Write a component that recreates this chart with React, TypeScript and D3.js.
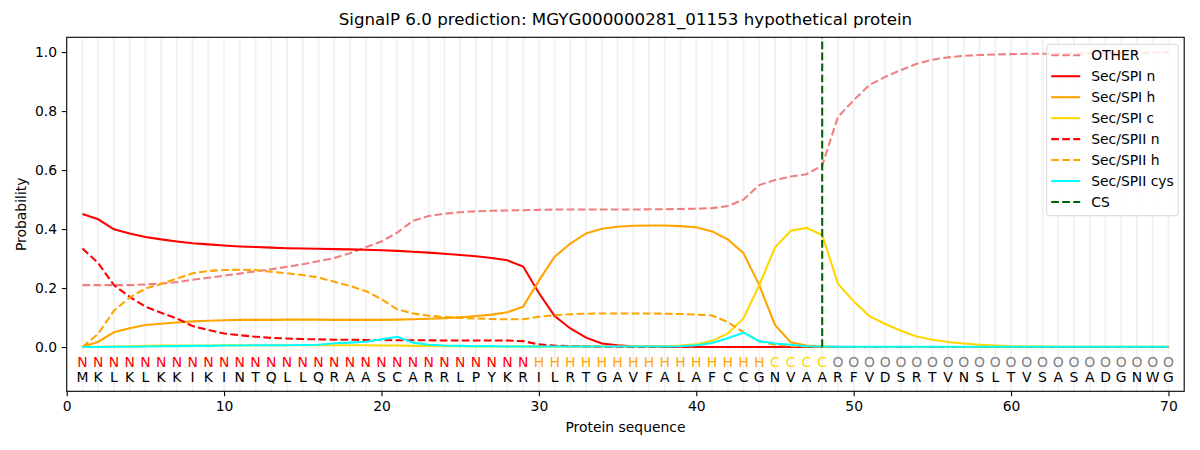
import React, { useEffect, useRef } from 'react'
import * as d3 from 'd3'

// residue sequence and SignalP region labels
const sequence = "MKLKLKKIKINTQLLQRAASCARRLPYKRILRTGAVFALAFCCGNVAARFVDSRTVNSLTVSASADGNWG".split("")
const regionLabels = [
    ...Array(29).fill("N"),
    ...Array(15).fill("H"),
    ...Array(4).fill("C"),
    ...Array(22).fill("O"),
]
const regionColors: Record<string, string> = { N: "red", H: "orange", C: "gold", O: "grey" }

const xTicks = [0, 10, 20, 30, 40, 50, 60, 70]
const yTicks = [0, 0.2, 0.4, 0.6, 0.8, 1.0]
const cleavageSite = 48

const other = [
    0.21, 0.21, 0.21, 0.21, 0.212, 0.215, 0.22, 0.228, 0.235, 0.242,
    0.249, 0.257, 0.264, 0.272, 0.281, 0.291, 0.302, 0.318, 0.338, 0.358,
    0.388, 0.428, 0.444, 0.452, 0.457, 0.46, 0.462, 0.463, 0.464, 0.465,
    0.466, 0.466, 0.466, 0.466, 0.466, 0.466, 0.467, 0.467, 0.468, 0.469,
    0.471, 0.478, 0.5, 0.549, 0.566, 0.578, 0.586, 0.615, 0.78, 0.837,
    0.888, 0.916, 0.939, 0.96, 0.974, 0.982, 0.987, 0.99, 0.992, 0.993,
    0.994, 0.994, 0.995, 0.995, 0.996, 0.996, 0.997, 0.997, 0.998, 0.999,
]
const spiN = [
    0.451, 0.433, 0.399, 0.385, 0.373, 0.365, 0.358, 0.352, 0.348, 0.344,
    0.341, 0.339, 0.337, 0.335, 0.334, 0.333, 0.332, 0.331, 0.33, 0.328,
    0.326, 0.323, 0.32, 0.316, 0.312, 0.308, 0.302, 0.294, 0.273, 0.183,
    0.105, 0.063, 0.032, 0.012, 0.006, 0.003, 0.002, 0.001, 0.001, 0.001,
    0, 0, 0, 0, 0, 0, 0, 0, 0, 0,
    0, 0, 0, 0, 0, 0, 0, 0, 0, 0,
    0, 0, 0, 0, 0, 0, 0, 0, 0, 0,
]
const spiH = [
    0.0, 0.018, 0.05, 0.064, 0.075, 0.079, 0.083, 0.087, 0.089, 0.091,
    0.092, 0.092, 0.092, 0.093, 0.093, 0.093, 0.092, 0.092, 0.092, 0.092,
    0.093, 0.094, 0.096, 0.098, 0.101, 0.105, 0.11, 0.118, 0.137, 0.225,
    0.306, 0.351, 0.385, 0.401, 0.408, 0.411, 0.412, 0.412, 0.41, 0.406,
    0.392, 0.365, 0.318, 0.21, 0.075, 0.016, 0.005, 0.002, 0.001, 0,
    0, 0, 0, 0, 0, 0, 0, 0, 0, 0,
    0, 0, 0, 0, 0, 0, 0, 0, 0, 0,
]
const spiC = [
    0.0, 0.001, 0.002, 0.003, 0.004, 0.005, 0.005, 0.005, 0.005, 0.006,
    0.006, 0.006, 0.006, 0.006, 0.006, 0.006, 0.006, 0.006, 0.006, 0.005,
    0.005, 0.004, 0.004, 0.003, 0.003, 0.002, 0.002, 0.002, 0.002, 0.002,
    0.002, 0.002, 0.002, 0.002, 0.002, 0.002, 0.002, 0.003, 0.005, 0.009,
    0.021, 0.046, 0.097, 0.21, 0.337, 0.394, 0.404, 0.38, 0.215, 0.155,
    0.105, 0.078, 0.055, 0.036, 0.025, 0.017, 0.012, 0.008, 0.005, 0.003,
    0.002, 0.002, 0.001, 0.001, 0.001, 0.001, 0.001, 0.001, 0.001, 0.001,
]
const spiiN = [
    0.334, 0.285, 0.21, 0.17, 0.137, 0.116, 0.097, 0.071, 0.058, 0.046,
    0.04, 0.035, 0.031, 0.029, 0.027, 0.026, 0.025, 0.025, 0.024, 0.024,
    0.023, 0.023, 0.023, 0.022, 0.022, 0.022, 0.022, 0.022, 0.02, 0.009,
    0.005, 0.003, 0.002, 0.001, 0.001, 0, 0, 0, 0, 0,
    0, 0, 0, 0, 0, 0, 0, 0, 0, 0,
    0, 0, 0, 0, 0, 0, 0, 0, 0, 0,
    0, 0, 0, 0, 0, 0, 0, 0, 0, 0,
]
const spiiH = [
    0.0, 0.045, 0.123, 0.168, 0.198, 0.214, 0.232, 0.25, 0.258, 0.261,
    0.262, 0.261, 0.255, 0.25, 0.244, 0.236, 0.221, 0.207, 0.19, 0.162,
    0.128, 0.114, 0.106, 0.102, 0.099, 0.097, 0.095, 0.094, 0.094, 0.103,
    0.108, 0.111, 0.113, 0.114, 0.114, 0.114, 0.114, 0.113, 0.112, 0.11,
    0.107, 0.085, 0.05, 0.02, 0.008, 0.004, 0.002, 0.001, 0, 0,
    0, 0, 0, 0, 0, 0, 0, 0, 0, 0,
    0, 0, 0, 0, 0, 0, 0, 0, 0, 0,
]
const spiiCys = [
    0, 0, 0.001, 0.001, 0.002, 0.003, 0.003, 0.004, 0.004, 0.005,
    0.005, 0.006, 0.006, 0.006, 0.007, 0.008, 0.013, 0.015, 0.018, 0.026,
    0.035, 0.015, 0.008, 0.005, 0.004, 0.003, 0.003, 0.002, 0.002, 0.002,
    0.002, 0.002, 0.002, 0.002, 0.002, 0.002, 0.002, 0.002, 0.003, 0.006,
    0.014, 0.03, 0.049, 0.02, 0.012, 0.008, 0.003, 0.002, 0.001, 0.001,
    0.001, 0.001, 0.001, 0.001, 0.001, 0.001, 0.001, 0.001, 0.001, 0.001,
    0.001, 0.001, 0.001, 0.001, 0.001, 0.001, 0.001, 0.001, 0.001, 0.001,
]

// matplotlib "--" at lw 1.5pt, in px
const LW = 2.08
const DASH = "7.7,3.33"

const series = [
    { label: "OTHER", values: other, color: "#f08080", dash: DASH },
    { label: "Sec/SPI n", values: spiN, color: "red", dash: null },
    { label: "Sec/SPI h", values: spiH, color: "orange", dash: null },
    { label: "Sec/SPI c", values: spiC, color: "gold", dash: null },
    { label: "Sec/SPII n", values: spiiN, color: "red", dash: DASH },
    { label: "Sec/SPII h", values: spiiH, color: "orange", dash: DASH },
    { label: "Sec/SPII cys", values: spiiCys, color: "cyan", dash: null },
]

const FONT = "DejaVu Sans, sans-serif"

export default function App() {
    const svgRef = useRef<SVGSVGElement>(null)
    const width = 1200
    const height = 450

    useEffect(() => {
        if (!svgRef.current) return
        const svg = d3.select(svgRef.current)
        svg.selectAll("*").remove()

        const margin = { top: 37.3, right: 15.8, bottom: 58.7, left: 66.7 }
        const innerWidth = width - margin.left - margin.right
        const innerHeight = height - margin.top - margin.bottom

        const x = d3.scaleLinear().domain([0, 71]).range([0, innerWidth])
        const y = d3.scaleLinear().domain([-0.15, 1.05]).range([innerHeight, 0])

        svg.append("rect").attr("width", width).attr("height", height).attr("fill", "white")

        const g = svg.append("g")
            .attr("transform", `translate(${margin.left},${margin.top})`)

        // light vertical grid, one per residue
        g.selectAll(".grid")
            .data(sequence.map((_, i) => i + 1))
            .enter().append("line")
            .attr("x1", d => x(d)).attr("x2", d => x(d))
            .attr("y1", 0).attr("y2", innerHeight)
            .attr("stroke", "#f2f2f2")
            .attr("stroke-width", 2)

        // X Axis
        const xAxis = g.append("g")
            .attr("transform", `translate(0,${innerHeight})`)
            .call(d3.axisBottom(x).tickValues(xTicks).tickSize(4.86).tickPadding(4.86).tickSizeOuter(0))
        xAxis.select(".domain").remove()
        xAxis.selectAll("text").attr("font-family", FONT).attr("font-size", "13.9px").attr("fill", "#000")
        xAxis.selectAll("line").attr("stroke", "#000").attr("stroke-width", 1.1)

        // Y Axis
        const yAxis = g.append("g")
            .call(d3.axisLeft(y).tickValues(yTicks).tickFormat(d3.format(".1f")).tickSize(4.86).tickPadding(4.86).tickSizeOuter(0))
        yAxis.select(".domain").remove()
        yAxis.selectAll("text").attr("font-family", FONT).attr("font-size", "13.9px").attr("fill", "#000")
        yAxis.selectAll("line").attr("stroke", "#000").attr("stroke-width", 1.1)

        // probability curves
        const line = d3.line<number>()
            .x((_, i) => x(i + 1))
            .y(d => y(d))

        series.forEach(s => {
            g.append("path")
                .datum(s.values)
                .attr("d", line)
                .attr("fill", "none")
                .attr("stroke", s.color)
                .attr("stroke-width", LW)
                .attr("stroke-dasharray", s.dash)
        })

        // cleavage site
        g.append("line")
            .attr("x1", x(cleavageSite)).attr("x2", x(cleavageSite))
            .attr("y1", y(0)).attr("y2", 0)
            .attr("stroke", "darkgreen")
            .attr("stroke-width", LW)
            .attr("stroke-dasharray", DASH)

        // region labels and residues under the curves
        g.selectAll(".region")
            .data(regionLabels)
            .enter().append("text")
            .attr("x", (_, i) => x(i + 1))
            .attr("y", y(-0.066))
            .attr("text-anchor", "middle")
            .attr("font-family", FONT)
            .attr("font-size", "13.9px")
            .attr("fill", d => regionColors[d])
            .text(d => d)

        g.selectAll(".residue")
            .data(sequence)
            .enter().append("text")
            .attr("x", (_, i) => x(i + 1))
            .attr("y", y(-0.117))
            .attr("text-anchor", "middle")
            .attr("font-family", FONT)
            .attr("font-size", "13.9px")
            .attr("fill", "#000")
            .text(d => d)

        // frame
        g.append("rect")
            .attr("width", innerWidth).attr("height", innerHeight)
            .attr("fill", "none").attr("stroke", "#000").attr("stroke-width", 1.1)

        // legend
        const legendItems = [
            ...series.map(s => ({ label: s.label, color: s.color, dash: s.dash })),
            { label: "CS", color: "darkgreen", dash: DASH },
        ]
        const lg = svg.append("g").attr("transform", "translate(1046.7,44.3)")
        lg.append("rect")
            .attr("width", 131.6).attr("height", 171.4)
            .attr("rx", 3).attr("ry", 3)
            .attr("fill", "white").attr("fill-opacity", 0.8)
            .attr("stroke", "#d5d5d5").attr("stroke-width", 1)
        legendItems.forEach((item, i) => {
            const cy = 11 + i * 20.95
            lg.append("line")
                .attr("x1", 4.5).attr("x2", 33.5)
                .attr("y1", cy).attr("y2", cy)
                .attr("stroke", item.color)
                .attr("stroke-width", LW)
                .attr("stroke-dasharray", item.dash)
            lg.append("text")
                .attr("x", 44.5).attr("y", cy)
                .attr("dy", "0.36em")
                .attr("font-family", FONT)
                .attr("font-size", "13.9px")
                .attr("fill", "#000")
                .text(item.label)
        })

        // title and axis labels
        svg.append("text")
            .attr("x", margin.left + innerWidth / 2).attr("y", 25)
            .attr("text-anchor", "middle")
            .attr("font-family", FONT).attr("font-size", "16.7px")
            .text("SignalP 6.0 prediction: MGYG000000281_01153 hypothetical protein")

        svg.append("text")
            .attr("x", margin.left + innerWidth / 2).attr("y", 432)
            .attr("text-anchor", "middle")
            .attr("font-family", FONT).attr("font-size", "13.9px")
            .text("Protein sequence")

        svg.append("text")
            .attr("transform", `translate(26,${margin.top + innerHeight / 2}) rotate(-90)`)
            .attr("text-anchor", "middle")
            .attr("font-family", FONT).attr("font-size", "13.9px")
            .text("Probability")
    }, [])

    return (
        <svg ref={svgRef} width={width} height={height} viewBox={`0 0 ${width} ${height}`}
            style={{ position: "absolute", left: 0, top: 0, display: "block" }} />
    )
}
